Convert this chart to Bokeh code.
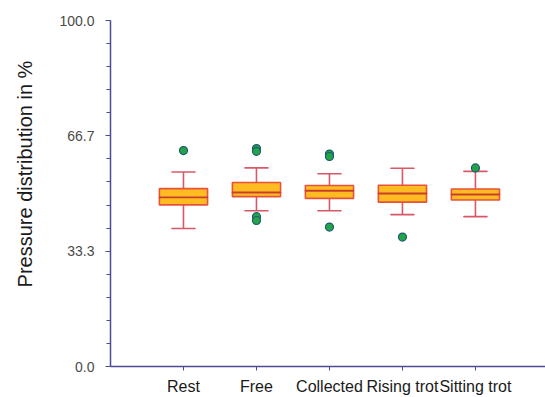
from bokeh.plotting import figure
from bokeh.models import FixedTicker, ColumnDataSource
from bokeh.embed import file_html
from bokeh.resources import INLINE

categories = ["Rest", "Free", "Collected", "Rising trot", "Sitting trot"]
q1 = [46.7, 49.1, 48.6, 47.5, 48.1]
median = [48.9, 50.3, 50.8, 50.0, 49.7]
q3 = [51.4, 53.2, 52.3, 52.4, 51.3]
lower_whisker = [39.9, 45.0, 45.0, 43.9, 43.3]
upper_whisker = [56.2, 57.4, 55.7, 57.3, 56.4]
outlier_cat = [1, 2, 2, 2, 2, 3, 3, 3, 4, 5]
outlier_val = [62.4, 63.0, 62.2, 43.3, 42.2, 61.4, 60.7, 40.3, 37.4, 57.4]
y_ticks = [0, 100 / 3, 200 / 3, 100]
y_tick_labels = ["0.0", "33.3", "66.7", "100.0"]
y_title = "Pressure distribution in %"

xs = list(range(1, len(categories) + 1))
src = ColumnDataSource(dict(x=xs, q1=q1, med=median, q3=q3, lo=lower_whisker, hi=upper_whisker))

p = figure(width=545, height=397, x_range=(0, 5.96), y_range=(0, 100),
           output_backend="svg", toolbar_location=None,
           min_border_left=110, min_border_top=20, min_border_bottom=29, min_border_right=0)
p.outline_line_color = None
p.xgrid.visible = False
p.ygrid.visible = False
p.background_fill_color = "white"

whisker_color = "#d85868"
p.segment(x0="x", y0="q3", x1="x", y1="hi", source=src, line_color=whisker_color, line_width=1.6)
p.segment(x0="x", y0="lo", x1="x", y1="q1", source=src, line_color=whisker_color, line_width=1.6)
p.rect(x="x", y="hi", width=0.32, height=0.01, source=src, line_color=whisker_color, line_width=1.6, fill_color=None)
p.rect(x="x", y="lo", width=0.32, height=0.01, source=src, line_color=whisker_color, line_width=1.6, fill_color=None)
p.vbar(x="x", bottom="q1", top="q3", width=0.66, source=src,
       fill_color="#ffbb22", line_color="#e8523a", line_width=1.6)
p.rect(x="x", y="med", width=0.66, height=0.01, source=src, line_color="#c8402a", line_width=1.8, fill_color=None)
p.scatter(outlier_cat, outlier_val, size=8, fill_color="#22a548", line_color="#1f5a70", line_width=1.2)

axis_color = "#4b4b96"
xa = p.xaxis[0]
xa.ticker = FixedTicker(ticks=xs)
xa.major_label_overrides = {i: c for i, c in zip(xs, categories)}
xa.axis_line_color = axis_color
xa.axis_line_width = 1.5
xa.major_tick_line_color = axis_color
xa.major_tick_in = 0
xa.major_tick_out = 4
xa.minor_tick_line_color = None
xa.major_label_text_font = "Liberation Sans"
xa.major_label_text_font_size = "16px"
xa.major_label_text_color = "#1a1a1a"
xa.major_label_standoff = 7

ya = p.yaxis[0]
ya.ticker = FixedTicker(ticks=y_ticks, minor_ticks=[i * 100 / 15 for i in range(16)])
ya.major_label_overrides = {t: l for t, l in zip(y_ticks, y_tick_labels)}
ya.axis_line_color = axis_color
ya.axis_line_width = 1.5
ya.major_tick_line_color = axis_color
ya.minor_tick_line_color = axis_color
ya.major_tick_in = 0
ya.major_tick_out = 5
ya.minor_tick_in = 0
ya.minor_tick_out = 4
ya.major_label_text_font = "Liberation Sans"
ya.major_label_text_font_size = "14px"
ya.major_label_text_color = "#4a4a4a"
ya.major_label_standoff = 11
# leading no-break spaces shift the title upward, as in the reference
ya.axis_label = "\u00a0" * 7 + y_title
ya.axis_label_text_font = "Liberation Sans"
ya.axis_label_text_font_style = "normal"
ya.axis_label_text_font_size = "20px"
ya.axis_label_text_color = "#1a1a1a"
ya.axis_label_standoff = 20

open("out.html", "w").write(file_html(p, INLINE))
